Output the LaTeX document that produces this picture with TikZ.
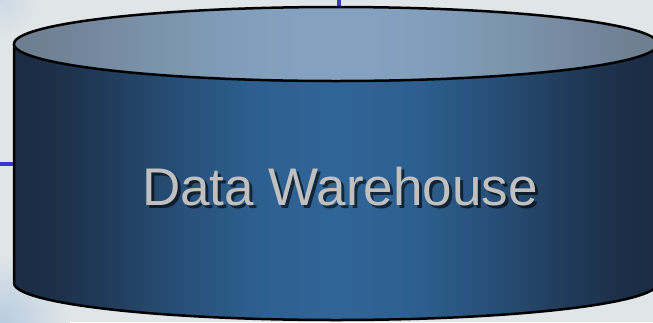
\documentclass[tikz,border=0pt]{standalone}
\usepackage{fontspec}
\newfontfamily\labelfont{Liberation Sans}
\definecolor{bgGray}{RGB}{224,230,232}
\definecolor{bgBlue}{RGB}{184,204,224}
\definecolor{bodyDark}{RGB}{27,44,68}
\definecolor{bodyLight}{RGB}{47,100,150}
\definecolor{lidDark}{RGB}{110,126,144}
\definecolor{lidLight}{RGB}{132,162,192}
\definecolor{linkBlue}{RGB}{56,56,204}
\definecolor{labelGray}{RGB}{192,192,192}

\tikzset{every picture/.style={line width=0.75pt}}
\tikzset{
  rim/.style={draw=black, line width=2.5pt},
  link/.style={draw=linkBlue, line width=3.5pt},
  dwlabel/.style={font=\labelfont\fontsize{53}{60}\selectfont, text=labelGray, anchor=base, inner sep=0pt},
}

\begin{document}
\begin{tikzpicture}[x=1pt,y=1pt,yscale=-1,xscale=1]
	\useasboundingbox (0,0) rectangle (653,322);
	\clip (0,0) rectangle (653,322);

	%Background
	\fill [bgGray] (0,0) rectangle (653,322);
	\shade [inner color=bgBlue, outer color=bgGray] (0,322) circle (70);
	\shade [inner color=bgBlue!50!bgGray, outer color=bgGray] (0,0) circle (40);

	%Incoming lines
	\coordinate (top in) at (339,0);
	\coordinate (top end) at (339,10);
	\coordinate (left in) at (0,164);
	\coordinate (left end) at (14,164);
	\draw [link] (top in) -- (top end);
	\draw [link] (left in) -- (left end);

	%Shape: Cylinder body
	\begin{scope}
	\clip (14,44) -- (14,283) arc [start angle=180, end angle=0, x radius=322, y radius=37] -- (658,44) -- cycle;
	\foreach \x in {14,16,...,656} {
		\pgfmathsetmacro\p{100*(max(0,1-((\x+1-336)/322)^2))^1.8}
		\fill [bodyLight!\p!bodyDark] (\x,40) rectangle (\x+2.6,322);
	}
	\end{scope}
	\draw [rim] (14,44) -- (14,283) arc [start angle=180, end angle=0, x radius=322, y radius=37] -- (658,44);
	%Shape: Cylinder lid
	\begin{scope}
	\clip (336,44) ellipse [x radius=322, y radius=37];
	\foreach \x in {14,16,...,656} {
		\pgfmathsetmacro\p{100*(max(0,1-((\x+1-336)/322)^2))^1.5}
		\fill [lidLight!\p!lidDark] (\x,5) rectangle (\x+2.6,83);
	}
	\end{scope}
	\draw [rim] (336,44) ellipse [x radius=322, y radius=37];

	% Text Node
	\node [dwlabel, text=black, opacity=0.6] (dw shadow) at (343,208) {Data Warehouse};
	\node [dwlabel] (dw) at (340,205) {Data Warehouse};

\end{tikzpicture}
\end{document}
